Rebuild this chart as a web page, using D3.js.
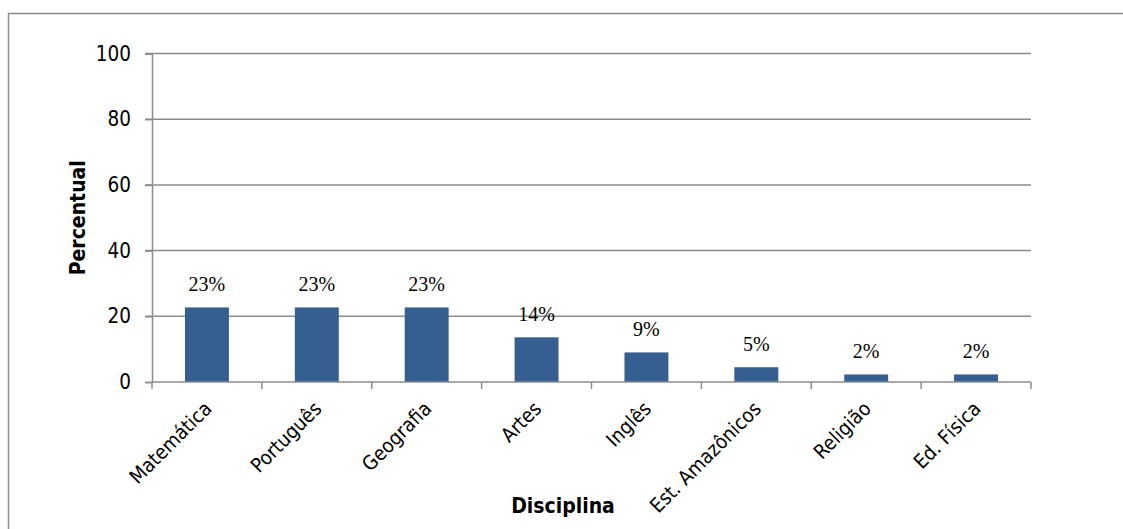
<!DOCTYPE html>
<html><head><meta charset="utf-8">
<script src="https://cdn.jsdelivr.net/npm/d3@7"></script>
<style>body{margin:0;background:#fff}svg{display:block}</style>
</head><body>
<svg id="c" width="1123" height="529"></svg>
<script>
const categories = ["Matemática","Português","Geografia","Artes","Inglês","Est. Amazônicos","Religião","Ed. Física"];
const values = [22.7, 22.7, 22.7, 13.6, 9.0, 4.5, 2.3, 2.3];
const labels = ["23%","23%","23%","14%","9%","5%","2%","2%"];
const yTicks = [0,20,40,60,80,100];

const svg = d3.select("#c");
const m = {left:152, right:1031, top:53.5, bottom:382};
const tickFont = "'DejaVu Sans Condensed', 'DejaVu Sans', sans-serif";

// outer border
svg.append("rect").attr("x",8.5).attr("y",13.5).attr("width",1130).attr("height",530)
  .attr("fill","none").attr("stroke","#8c8c8c").attr("stroke-width",1.5);

const x = d3.scaleBand().domain(categories).range([m.left, m.right]).paddingInner(0.6).paddingOuter(0.3);
const xb = d3.scaleBand().domain(categories).range([m.left, m.right]);
const y = d3.scaleLinear().domain([0,100]).range([m.bottom, m.top]);

// gridlines
svg.append("g").selectAll("line").data(yTicks.filter(d=>d>0)).join("line")
  .attr("x1", m.left-7).attr("x2", m.right).attr("y1", d=>y(d)).attr("y2", d=>y(d))
  .attr("stroke","#8c8c8c").attr("stroke-width",1.5);

// y axis
const ya = svg.append("g").attr("transform",`translate(${m.left},0)`)
  .call(d3.axisLeft(y).tickValues(yTicks).tickSize(7).tickPadding(14));
ya.select(".domain").attr("stroke","#8c8c8c").attr("stroke-width",1.5);
ya.selectAll(".tick line").attr("stroke","#8c8c8c").attr("stroke-width",1.5);
ya.selectAll("text").attr("font-family",tickFont).attr("font-size",20.5).attr("fill","#000");

// bars
svg.append("g").selectAll("rect").data(values).join("rect")
  .attr("x",(d,i)=>x(categories[i])).attr("width",x.bandwidth())
  .attr("y",d=>y(d)).attr("height",d=>y(0)-y(d)).attr("fill","#365f91");

// x axis
svg.append("line").attr("x1",m.left).attr("x2",m.right).attr("y1",m.bottom).attr("y2",m.bottom)
  .attr("stroke","#8c8c8c").attr("stroke-width",1.5);
const bounds = categories.map(c=>xb(c)).concat([m.right]);
svg.append("g").selectAll("line").data(bounds).join("line")
  .attr("x1",d=>d).attr("x2",d=>d).attr("y1",m.bottom).attr("y2",m.bottom+7)
  .attr("stroke","#8c8c8c").attr("stroke-width",1.5);

// category labels
svg.append("g").selectAll("text").data(categories).join("text")
  .attr("transform",c=>`translate(${xb(c)+xb.bandwidth()/2+6},${m.bottom+28}) rotate(-45)`)
  .attr("text-anchor","end").attr("font-family",tickFont).attr("font-size",20).attr("fill","#000")
  .text(d=>d);

// value labels
svg.append("g").selectAll("text").data(values).join("text")
  .attr("x",(d,i)=>xb(categories[i])+xb.bandwidth()/2).attr("y",d=>y(d)-16)
  .attr("text-anchor","middle").attr("font-family","'Liberation Serif','Times New Roman',serif")
  .attr("font-size",20).attr("fill","#000").text((d,i)=>labels[i]);

// axis titles
svg.append("text").attr("transform",`translate(85,${(m.top+m.bottom)/2}) rotate(-90)`)
  .attr("text-anchor","middle").attr("font-family",tickFont).attr("font-weight","bold")
  .attr("font-size",21).text("Percentual");
svg.append("text").attr("x",563).attr("y",513).attr("text-anchor","middle")
  .attr("font-family",tickFont).attr("font-weight","bold").attr("font-size",21).text("Disciplina");
</script>
</body></html>
